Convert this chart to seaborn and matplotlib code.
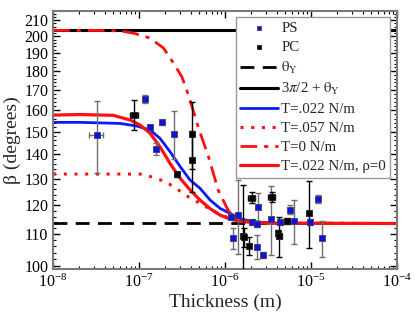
import numpy as np
import pandas as pd
import matplotlib
matplotlib.use('Agg')
import matplotlib.pyplot as plt
import seaborn as sns
from matplotlib.ticker import FixedLocator, FixedFormatter, NullFormatter, LogLocator

# --- data ---
theta_y = 113.6
upper_line = 203.6

# model curves (thickness in m, beta in degrees)
t0_x = [1e-8, 3.2e-8, 6.0e-8, 8.6e-8, 1.34e-7, 1.92e-7, 2.51e-7, 3.14e-7, 3.74e-7, 4.47e-7,
        4.9e-7, 6.4e-7, 8.3e-7, 1.08e-6, 1.24e-6, 1.78e-6, 3.2e-6, 1e-4]
t0_y = [203.6, 203.6, 203.3, 201.9, 198.9, 193.0, 184.4, 177.0, 167.5, 156.9,
        151.6, 139.0, 125.7, 118.3, 116.0, 114.3, 113.8, 113.6]

t022_x = [1e-8, 2.06e-8, 6.0e-8, 9.4e-8, 1.34e-7, 1.75e-7, 2.29e-7, 3.0e-7, 3.92e-7, 5.12e-7,
          6.7e-7, 8.75e-7, 1.14e-6, 1.49e-6, 2.12e-6, 4.0e-6, 1e-4]
t022_y = [154.2, 154.2, 153.7, 152.5, 150.7, 146.9, 141.1, 134.9, 129.5, 126.3,
          121.9, 118.9, 117.1, 115.3, 114.2, 113.7, 113.6]

rho0_x = [1e-8, 2.06e-8, 5.0e-8, 7.85e-8, 1.03e-7, 1.34e-7, 1.75e-7, 2.29e-7, 3.0e-7, 3.92e-7,
          5.12e-7, 6.7e-7, 8.75e-7, 1.14e-6, 1.62e-6, 3.0e-6, 1e-4]
rho0_y = [157.6, 157.9, 157.5, 155.3, 152.9, 149.2, 143.2, 136.2, 130.2, 125.7,
          121.9, 118.8, 116.5, 115.1, 114.2, 113.7, 113.6]

t057_x = [1e-8, 5.0e-8, 1.03e-7, 1.47e-7, 2.0e-7, 2.62e-7, 3.43e-7, 5.12e-7, 7.66e-7, 1.14e-6,
          1.95e-6, 4.0e-6, 1e-4]
t057_y = [131.9, 131.9, 131.9, 130.6, 128.9, 126.7, 123.8, 120.7, 117.6, 115.3,
          114.2, 113.7, 113.6]

# PS measurements
ps_x = [3.22e-8, 1.18e-7, 1.35e-7, 1.59e-7, 1.85e-7, 2.55e-7, 1.16e-6, 1.23e-6, 1.43e-6, 2.07e-6,
        2.40e-6, 2.37e-6, 2.37e-6, 2.79e-6, 3.43e-6, 4.37e-6, 5.70e-6, 6.40e-6, 9.73e-6, 1.20e-5,
        1.33e-5]
ps_y = [148.4, 165.5, 152.2, 142.2, 154.2, 148.7, 116.0, 108.6, 116.5, 114.2,
        119.5, 113.4, 105.9, 103.2, 115.3, 114.2, 118.5, 114.4, 114.0, 122.2,
        108.6]
ps_yerr = [16.0, 2.0, 1.0, 2.5, 1.0, 10.7, 1.0, 3.3, 13.0, 1.0,
           5.0, 1.0, 3.8, 1.0, 12.0, 1.0, 1.5, 7.7, 1.0, 1.5,
           5.8]
ps_xerr = [0.6e-8, 0.05e-7, 0, 0.1e-7, 0, 0, 0, 0, 0, 0,
           0, 0, 0, 0, 0, 0, 0, 0, 0, 0,
           0]

# PC measurements
pc_x = [8.81e-8, 2.72e-7, 4.17e-7, 4.17e-7, 1.61e-6, 1.67e-6, 1.87e-6, 2.04e-6, 3.49e-6, 4.17e-6,
        4.28e-6, 5.30e-6, 9.55e-6]
pc_y = [157.9, 131.8, 149.0, 137.6, 109.5, 108.9, 106.2, 122.8, 123.1, 110.4,
        109.3, 114.5, 117.3]
pc_yerr = [7.0, 1.0, 15.0, 12.6, 18.0, 3.0, 3.0, 2.0, 2.0, 1.0,
           6.6, 1.0, 11.7]
pc_xerr = [0.9e-8, 0.1e-7, 0.2e-7, 0.2e-7, 0, 0, 0, 0.2e-6, 0.3e-6, 0,
           0.3e-6, 0.4e-6, 0]

ps = pd.DataFrame({'x': ps_x, 'y': ps_y})
pc = pd.DataFrame({'x': pc_x, 'y': pc_y})

sns.set_style('ticks')
plt.rcParams['font.family'] = ['Liberation Serif', 'DejaVu Serif']
plt.rcParams['mathtext.fontset'] = 'stix'

fig = plt.figure(figsize=(4.15, 3.18), dpi=100)
ax = fig.add_axes([0.128, 0.154, 0.829, 0.812])

ax.set_xscale('log')
ax.set_yscale('log')

# horizontal reference lines
ax.axhline(theta_y, color='black', ls=(0, (5, 3)), lw=2, label=r'$\mathrm{\theta_Y}$')
ax.axhline(upper_line, color='black', lw=2.2, label=r'3$\pi$/2 + $\mathrm{\theta_Y}$')

sns.lineplot(x=t022_x, y=t022_y, ax=ax, color='#0a1aff', lw=2, label='T=.022 N/m')
sns.lineplot(x=t057_x, y=t057_y, ax=ax, color='#ff1010', lw=2.2, ls=(0, (1, 2.5)),
             label='T=.057 N/m')
sns.lineplot(x=t0_x, y=t0_y, ax=ax, color='#ff1010', lw=2, ls=(0, (6, 2.5, 1.5, 2.5)),
             label='T=0 N/m')
sns.lineplot(x=rho0_x, y=rho0_y, ax=ax, color='#ff1010', lw=2.3,
             label='T=.022 N/m, \u03c1=0')

# error bars
ax.errorbar(ps_x, ps_y, yerr=ps_yerr, xerr=ps_xerr, fmt='none', ecolor='#6e6e6e',
            elinewidth=1, capsize=2.5, zorder=3)
ax.errorbar(pc_x, pc_y, yerr=pc_yerr, xerr=pc_xerr, fmt='none', ecolor='black',
            elinewidth=1, capsize=2.5, zorder=3)

sns.scatterplot(data=ps, x='x', y='y', ax=ax, marker='s', color='#1010e0', s=22,
                edgecolor='#404060', linewidth=0.6, label='PS', zorder=4)
sns.scatterplot(data=pc, x='x', y='y', ax=ax, marker='s', color='black', s=22,
                edgecolor='#202020', linewidth=0.6, label='PC', zorder=4)

ax.set_xlim(1e-8, 1e-4)
ax.set_ylim(99, 216)

ax.yaxis.set_major_locator(FixedLocator(list(range(100, 211, 10))))
ax.yaxis.set_minor_locator(FixedLocator(list(range(100, 216, 2))))
ax.yaxis.set_major_formatter(FixedFormatter([str(v) for v in range(100, 211, 10)]))
ax.yaxis.set_minor_formatter(NullFormatter())
ax.xaxis.set_major_locator(LogLocator(base=10, numticks=10))
ax.xaxis.set_minor_locator(LogLocator(base=10, subs=np.arange(2, 10), numticks=20))

ax.tick_params(which='both', direction='in', top=True, right=True, colors='black',
               labelsize=11.5)
ax.tick_params(which='major', length=5, width=1)
ax.tick_params(which='minor', length=2.5, width=0.8)
for sp in ax.spines.values():
    sp.set_color('#7a7a7a')
    sp.set_linewidth(1.5)

ax.set_xlabel('Thickness (m)', fontsize=14, labelpad=2)
ax.set_ylabel('\u03b2 (degrees)', fontsize=14, labelpad=2)

# legend order as in reference
handles, labels = ax.get_legend_handles_labels()
order = ['PS', 'PC', r'$\mathrm{\theta_Y}$', r'3$\pi$/2 + $\mathrm{\theta_Y}$', 'T=.022 N/m',
         'T=.057 N/m', 'T=0 N/m', 'T=.022 N/m, \u03c1=0']
hmap = dict(zip(labels, handles))
leg = ax.legend([hmap[k] for k in order], order, loc='upper right', fontsize=10.7,
                frameon=True, fancybox=False, handlelength=2.5, handletextpad=0.25,
                labelspacing=0.37, borderpad=0.3, borderaxespad=0.45, markerscale=0.7)
leg.get_frame().set_edgecolor('#9a9a9a')
leg.get_frame().set_linewidth(1.0)
leg.get_frame().set_alpha(1)

fig.savefig('out.png', dpi=100)
